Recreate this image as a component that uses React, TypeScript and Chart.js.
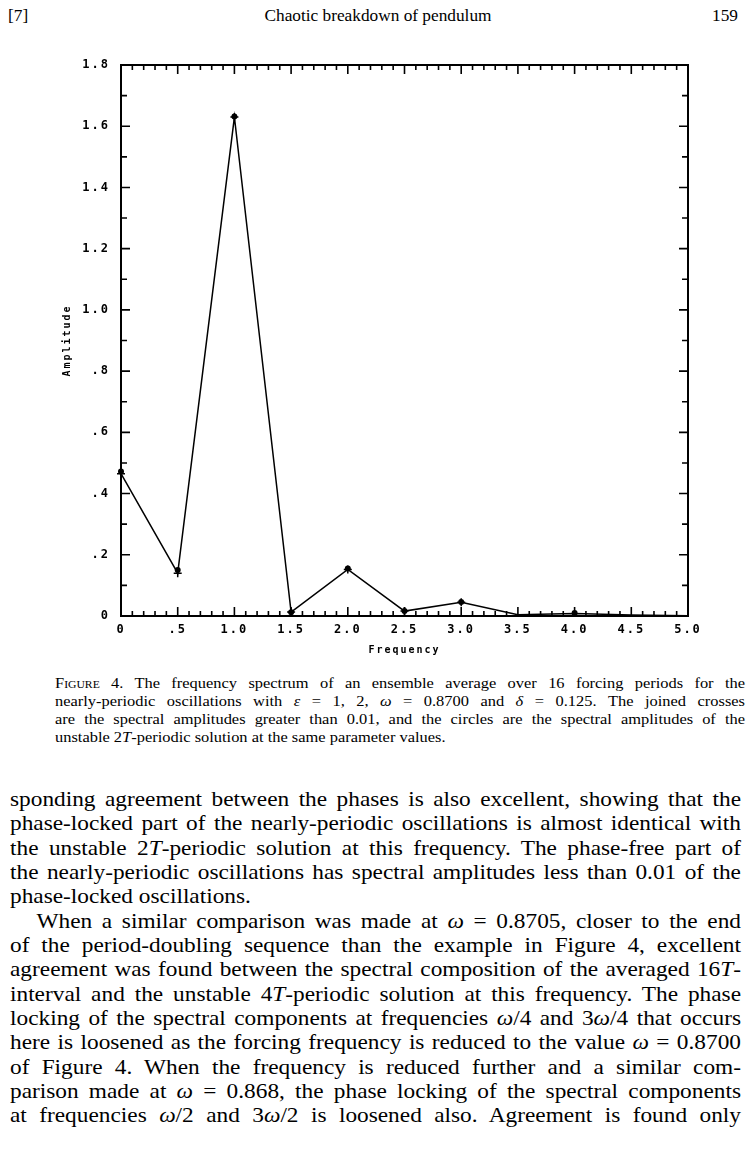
import React, { useEffect, useRef } from "react";
import { Chart, registerables } from "chart.js";

Chart.register(...registerables);

// ---- data ----
const frequencies = [0, 0.5, 1.0, 1.5, 2.0, 2.5, 3.0, 3.5, 4.0, 4.5, 5.0];
const ensembleAmplitudes = [0.465, 0.14, 1.63, 0.013, 0.152, 0.016, 0.045, 0.004, 0.008, 0.003, 0.001];
const periodicAmplitudes = [0.472, 0.15, 1.632, 0.012, 0.155, 0.016, 0.046, null, 0.01, null, null];
const xTickLabels = ["0", ".5", "1.0", "1.5", "2.0", "2.5", "3.0", "3.5", "4.0", "4.5", "5.0"];
const yTickLabels = ["0", ".2", ".4", ".6", ".8", "1.0", "1.2", "1.4", "1.6", "1.8"];
const xAxisTitle = "Frequency";
const yAxisTitle = "Amplitude";

const tickFont = { family: "'DejaVu Sans Mono'", size: 12, weight: "bold" as const };
const titleFont = { family: "'DejaVu Sans Mono'", size: 10, weight: "bold" as const };

const framePlugin = {
  id: "frame",
  beforeDraw(chart: any) {
    chart.ctx.letterSpacing = "2px";
  },
  afterDraw(chart: any) {
    chart.ctx.letterSpacing = "0px";
  },
  beforeDatasetsDraw(chart: any) {
    const { ctx, chartArea, scales } = chart;
    const { left, right, top, bottom } = chartArea;
    const x = scales.x;
    const y = scales.y;
    ctx.save();
    ctx.strokeStyle = "#000";
    ctx.lineWidth = 2;
    ctx.strokeRect(left, top, right - left, bottom - top);
    ctx.lineWidth = 1.6;
    ctx.beginPath();
    for (let i = 0; i <= 50; i++) {
      const px = x.getPixelForValue(i / 10);
      const len = i % 5 === 0 ? 9 : 5;
      ctx.moveTo(px, bottom);
      ctx.lineTo(px, bottom - len);
      ctx.moveTo(px, top);
      ctx.lineTo(px, top + len);
    }
    for (let i = 0; i <= 18; i++) {
      const py = y.getPixelForValue(i / 10);
      const len = i % 2 === 0 ? 9 : 6;
      ctx.moveTo(left, py);
      ctx.lineTo(left + len, py);
      ctx.moveTo(right, py);
      ctx.lineTo(right - len, py);
    }
    ctx.stroke();
    ctx.restore();
  },
};

function SpectrumChart() {
  const ref = useRef<HTMLCanvasElement>(null);
  useEffect(() => {
    if (!ref.current) return;
    const chart = new Chart(ref.current, {
      type: "line",
      data: {
        datasets: [
          {
            label: "ensemble average (crosses)",
            data: frequencies.map((f, i) => ({ x: f, y: ensembleAmplitudes[i] })),
            borderColor: "#000",
            backgroundColor: "#000",
            borderWidth: 1.5,
            pointStyle: "cross",
            pointRadius: ensembleAmplitudes.map((v) => (v > 0.01 ? 4 : 0)),
            pointBorderWidth: 1.5,
            tension: 0,
            clip: false as any,
          },
          {
            label: "unstable 2T-periodic solution (circles)",
            data: frequencies.map((f, i) => ({ x: f, y: periodicAmplitudes[i] as any })),
            showLine: false,
            borderColor: "#000",
            backgroundColor: "#000",
            pointStyle: "circle",
            pointRadius: 3,
            pointBorderWidth: 0,
            clip: false as any,
          },
        ],
      },
      options: {
        animation: false,
        responsive: false,
        layout: { padding: { left: 0, right: 62, top: 25, bottom: 0 } },
        plugins: { legend: { display: false }, tooltip: { enabled: false } },
        scales: {
          x: {
            type: "linear",
            min: 0,
            max: 5,
            grid: { display: false, drawTicks: false },
            border: { display: false },
            ticks: {
              stepSize: 0.5,
              padding: 7,
              color: "#000",
              font: tickFont,
              maxRotation: 0,
              callback: (v: any) => xTickLabels[Math.round(Number(v) / 0.5)],
            },
            title: {
              display: true,
              text: xAxisTitle,
              color: "#000",
              font: titleFont,
              padding: { top: 0, bottom: 14 },
            },
            afterFit: (s: any) => {
              s.height = 54;
            },
          },
          y: {
            type: "linear",
            min: 0,
            max: 1.8,
            grid: { display: false, drawTicks: false },
            border: { display: false },
            ticks: {
              stepSize: 0.2,
              padding: 11,
              color: "#000",
              font: tickFont,
              callback: (v: any) => yTickLabels[Math.round(Number(v) / 0.2)],
            },
            title: {
              display: true,
              text: yAxisTitle,
              color: "#000",
              font: titleFont,
              padding: { top: 61, bottom: 0 },
            },
            afterFit: (s: any) => {
              s.width = 121;
            },
          },
        },
      },
      plugins: [framePlugin],
    });
    return () => chart.destroy();
  }, []);
  return <canvas ref={ref} width={750} height={630} style={{ width: 750, height: 630, display: "block" }} />;
}

const J: React.CSSProperties = { textAlign: "justify", textAlignLast: "justify" };
const BODY_SCALE = 1.06;
const CAP_SCALE = 1.06;

export default function App() {
  return (
    <div
      style={{
        position: "absolute",
        left: 0,
        top: 0,
        width: 750,
        height: 1166,
        background: "#fff",
        color: "#000",
        fontFamily: "'Liberation Serif', 'Times New Roman', serif",
        overflow: "hidden",
      }}
    >
      {/* running head */}
      <div style={{ position: "absolute", left: 8, top: 6, fontSize: 17.3 }}>[7]</div>
      <div style={{ position: "absolute", left: 0, top: 6, width: 756, textAlign: "center", fontSize: 17.3 }}>
        Chaotic breakdown of pendulum
      </div>
      <div style={{ position: "absolute", right: 12, top: 6, fontSize: 17.3 }}>159</div>

      {/* chart */}
      <div style={{ position: "absolute", left: 0, top: 40, width: 750, height: 630 }}>
        <SpectrumChart />
      </div>

      {/* caption */}
      <div
        style={{
          position: "absolute",
          left: 55,
          top: 674,
          width: 690 / CAP_SCALE,
          fontSize: 15.5,
          lineHeight: "18px",
          transform: `scaleX(${CAP_SCALE})`,
          transformOrigin: "0 0",
        }}
      >
        <div style={J}>
          <span style={{ fontVariant: "small-caps" }}>Figure</span> 4. The frequency spectrum of an ensemble average over 16 forcing periods for the
        </div>
        <div style={J}>
          nearly-periodic oscillations with <i>ε</i> = 1, 2, <i>ω</i> = 0.8700 and <i>δ</i> = 0.125. The joined crosses
        </div>
        <div style={J}>
          are the spectral amplitudes greater than 0.01, and the circles are the spectral amplitudes of the
        </div>
        <div>
          unstable 2<i>T</i>-periodic solution at the same parameter values.
        </div>
      </div>

      {/* body text */}
      <div
        style={{
          position: "absolute",
          left: 10,
          top: 787,
          width: 731 / BODY_SCALE,
          fontSize: 22,
          lineHeight: "24.35px",
          transform: `scaleX(${BODY_SCALE})`,
          transformOrigin: "0 0",
        }}
      >
        <div style={J}>sponding agreement between the phases is also excellent, showing that the</div>
        <div style={J}>phase-locked part of the nearly-periodic oscillations is almost identical with</div>
        <div style={J}>
          the unstable 2<i>T</i>-periodic solution at this frequency. The phase-free part of
        </div>
        <div style={J}>the nearly-periodic oscillations has spectral amplitudes less than 0.01 of the</div>
        <div>phase-locked oscillations.</div>
        <div style={{ ...J, paddingLeft: 25 }}>
          When a similar comparison was made at <i>ω</i> = 0.8705, closer to the end
        </div>
        <div style={J}>of the period-doubling sequence than the example in Figure 4, excellent</div>
        <div style={J}>
          agreement was found between the spectral composition of the averaged 16<i>T</i>-
        </div>
        <div style={J}>
          interval and the unstable 4<i>T</i>-periodic solution at this frequency. The phase
        </div>
        <div style={J}>
          locking of the spectral components at frequencies <i>ω</i>/4 and 3<i>ω</i>/4 that occurs
        </div>
        <div style={J}>
          here is loosened as the forcing frequency is reduced to the value <i>ω</i> = 0.8700
        </div>
        <div style={J}>of Figure 4. When the frequency is reduced further and a similar com-</div>
        <div style={J}>
          parison made at <i>ω</i> = 0.868, the phase locking of the spectral components
        </div>
        <div style={J}>
          at frequencies <i>ω</i>/2 and 3<i>ω</i>/2 is loosened also. Agreement is found only
        </div>
      </div>
    </div>
  );
}
